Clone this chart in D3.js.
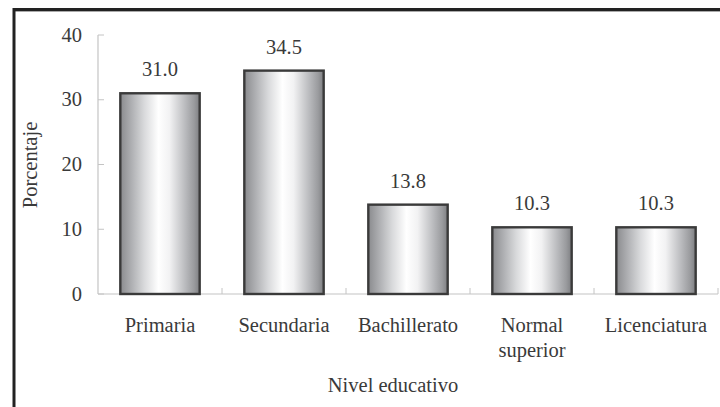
<!DOCTYPE html>
<html><head><meta charset="utf-8">
<script src="https://cdn.jsdelivr.net/npm/d3@7"></script>
<style>html,body{margin:0;background:#fff;overflow:hidden}svg{display:block;font-family:"Liberation Serif",serif}text{font-family:"Liberation Serif",serif}</style>
</head><body>
<script>
const categories = ["Primaria", "Secundaria", "Bachillerato", "Normal superior", "Licenciatura"];
const categoryLines = [["Primaria"], ["Secundaria"], ["Bachillerato"], ["Normal", "superior"], ["Licenciatura"]];
const values = [31.0, 34.5, 13.8, 10.3, 10.3];
const yTicks = [0, 10, 20, 30, 40];
const yLabel = "Porcentaje";
const xLabel = "Nivel educativo";

const W = 720, H = 407;
const svg = d3.select("body").append("svg").attr("width", W).attr("height", H);
const fontName = "Liberation Serif";
const txt = "#3a3a3a";
const fs = "20.5px";

// frame (only top and left edges are visible)
svg.append("line").attr("x1", 14).attr("x2", W).attr("y1", 9.5).attr("y2", 9.5).attr("stroke", "#222").attr("stroke-width", 3);
svg.append("line").attr("x1", 15).attr("x2", W).attr("y1", 11.5).attr("y2", 11.5).attr("stroke", "#aaa").attr("stroke-width", 1);
svg.append("line").attr("x1", 14).attr("x2", 14).attr("y1", 8).attr("y2", H).attr("stroke", "#222").attr("stroke-width", 3);

const defs = svg.append("defs");
const grad = defs.append("linearGradient").attr("id", "cyl").attr("x1", "0").attr("x2", "1").attr("y1", "0").attr("y2", "0");
[[0, "#8a8b8e"], [0.12, "#a9aaad"], [0.3, "#d8d9db"], [0.48, "#ffffff"], [0.62, "#f2f2f3"], [0.82, "#b9babd"], [0.93, "#9a9b9e"], [1, "#7e7f82"]]
  .forEach(([o, c]) => grad.append("stop").attr("offset", o).attr("stop-color", c));

const x = d3.scaleBand().domain(categories).range([98, 718]).paddingInner(0.36).paddingOuter(0.18);
const y = d3.scaleLinear().domain([0, 40]).range([294, 35]);

function styleText(sel) {
  return sel.style("font-family", fontName).style("font-size", fs).attr("fill", txt);
}

// axes
const axisColor = "#c4c4c4";
svg.append("line").attr("x1", 98).attr("x2", 98).attr("y1", y(40)).attr("y2", y(0)).attr("stroke", axisColor).attr("stroke-width", 1.2);
svg.append("line").attr("x1", 98).attr("x2", 718).attr("y1", y(0)).attr("y2", y(0)).attr("stroke", axisColor).attr("stroke-width", 1.2);
svg.selectAll(".yt").data(yTicks).enter().append("line")
  .attr("x1", 98).attr("x2", 104).attr("y1", d => y(d)).attr("y2", d => y(d)).attr("stroke", axisColor);
svg.selectAll(".xt").data(categories).enter().append("line")
  .attr("x1", d => x(d) - x.step() * x.paddingInner() / 2 + x.step())
  .attr("x2", d => x(d) - x.step() * x.paddingInner() / 2 + x.step())
  .attr("y1", y(0)).attr("y2", y(0) - 6).attr("stroke", axisColor);

styleText(svg.selectAll(".yl").data(yTicks).enter().append("text")
  .attr("x", 82).attr("y", d => y(d) + 6.5).attr("text-anchor", "end")).text(d => d);

// bars
svg.selectAll(".bar").data(values).enter().append("rect")
  .attr("x", (d, i) => x(categories[i]))
  .attr("width", x.bandwidth())
  .attr("y", d => y(d))
  .attr("height", d => y(0) - y(d))
  .attr("fill", "url(#cyl)").attr("stroke", "#3a3a3a").attr("stroke-width", 2.4);

styleText(svg.selectAll(".vl").data(values).enter().append("text")
  .attr("x", (d, i) => x(categories[i]) + x.bandwidth() / 2)
  .attr("y", d => y(d) - 17).attr("text-anchor", "middle")).text(d => d.toFixed(1));

// category labels
categoryLines.forEach((lines, i) => {
  const t = styleText(svg.append("text").attr("text-anchor", "middle"));
  lines.forEach((l, j) => t.append("tspan")
    .attr("x", x(categories[i]) + x.bandwidth() / 2).attr("y", 332 + j * 25).text(l));
});

styleText(svg.append("text").attr("x", 393).attr("y", 392).attr("text-anchor", "middle")).text(xLabel);

styleText(svg.append("text").attr("transform", "translate(37,165) rotate(-90)").attr("text-anchor", "middle")).text(yLabel);
</script>
</body></html>
